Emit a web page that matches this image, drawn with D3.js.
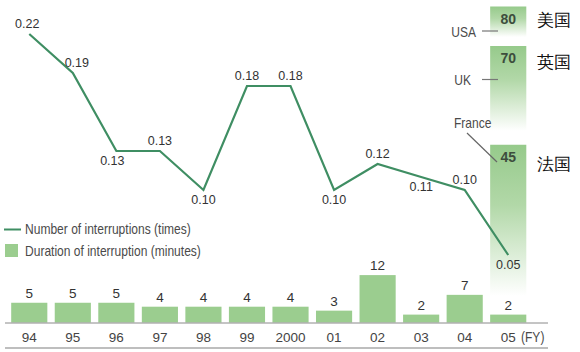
<!DOCTYPE html>
<html><head><meta charset="utf-8">
<script src="https://cdn.jsdelivr.net/npm/d3@7"></script>
<style>
html,body{margin:0;padding:0;background:#fff;}
svg{display:block;}
text{font-family:"Liberation Sans",Arial,sans-serif;}
</style></head>
<body>
<script>
const years = ["94","95","96","97","98","99","2000","01","02","03","04","05"];
const interruptions = [0.22,0.19,0.13,0.13,0.10,0.18,0.18,0.10,0.12,0.11,0.10,0.05];
const durations = [5,5,5,4,4,4,4,3,12,2,7,2];
const labelSide = ["above","above","below","above","below","above","above","below","above","below","above","below"];
const countries = ["USA","UK","France"];
const countriesCN = ["美国","英国","法国"];
const countryDurations = [80,70,45];
const legendLabels = ["Number of interruptions (times)","Duration of interruption (minutes)"];
const fyLabel = "(FY)";

const W = 580, H = 352;
const lineColor = "#3f8e63", barColor = "#9bcd8f", textColor = "#333";

const svg = d3.select("body").append("svg").attr("width", W).attr("height", H);
const defs = svg.append("defs");
const grad = defs.append("linearGradient").attr("id","fade").attr("x1",0).attr("y1",0).attr("x2",0).attr("y2",1);
grad.append("stop").attr("offset",0).attr("stop-color","#96ca8b");
grad.append("stop").attr("offset",0.4).attr("stop-color","#b2d8a8");
grad.append("stop").attr("offset",1).attr("stop-color","#ffffff");

// condensed text helper
function narrow(g, px, py, str, size, anchor){
  return g.append("text").attr("transform",`translate(${px},${py}) scale(0.86,1)`)
    .attr("font-size",size).attr("fill","#4a4a4a").attr("text-anchor",anchor||"start").text(str);
}

const x = d3.scaleBand().domain(years).range([7.5, 530]).paddingInner(0.17).paddingOuter(0.085);
const yLine = d3.scaleLinear().domain([0.10, 0.22]).range([190, 34]);
const yBar = d3.scaleLinear().domain([0, 80]).range([322.5, 6.5]);
const cx = d => x(d) + x.bandwidth()/2;

// Right comparison column (aligned with the last fiscal year)
const last = years[years.length-1];
const segBottom = [yBar(countryDurations[1]) - 9, yBar(countryDurations[2]) - 14, 296];
countries.forEach((c,i)=>{
  const top = yBar(countryDurations[i]);
  svg.append("rect").attr("x", x(last)).attr("y", top).attr("width", x.bandwidth())
    .attr("height", segBottom[i]-top).attr("fill","url(#fade)");
  svg.append("text").attr("x", cx(last)).attr("y", top+17)
    .attr("text-anchor","middle").attr("font-size",14).attr("font-weight","bold").attr("fill","#3d4d3d").text(countryDurations[i]);
  svg.append("text").attr("x", 537).attr("y", [top+19, top+22, top+25][i])
    .attr("font-family","'Noto Sans CJK SC',sans-serif").attr("font-size",17).attr("fill","#111").text(countriesCN[i]);
});
// English country labels with pointers
const gUSA = yBar(countryDurations[0]);
narrow(svg, 476, gUSA+30, countries[0], 14, "end");
svg.append("line").attr("x1",482).attr("x2",498).attr("y1",gUSA+24.5).attr("y2",gUSA+24.5).attr("stroke","#777").attr("stroke-width",1.2);
const gUK = yBar(countryDurations[1]);
narrow(svg, 471, gUK+39, countries[1], 14, "end");
svg.append("line").attr("x1",482).attr("x2",498).attr("y1",gUK+33.5).attr("y2",gUK+33.5).attr("stroke","#777").attr("stroke-width",1.2);
narrow(svg, 454, 128, countries[2], 14, "start");
svg.append("line").attr("x1",467).attr("y1",133).attr("x2",497).attr("y2",162).attr("stroke","#666").attr("stroke-width",1.2);

// Bars
svg.selectAll("rect.bar").data(durations).enter().append("rect").attr("class","bar")
  .attr("x",(d,i)=>x(years[i])).attr("width",x.bandwidth())
  .attr("y",d=>yBar(d)).attr("height",d=>yBar(0)-yBar(d)).attr("fill",barColor);
svg.selectAll("text.bl").data(durations).enter().append("text").attr("class","bl")
  .attr("x",(d,i)=>cx(years[i])).attr("y",d=>yBar(d)-5).attr("text-anchor","middle")
  .attr("font-size",13.5).attr("fill",textColor).text(d=>d);

// Axis lines
svg.append("line").attr("x1",5).attr("x2",548).attr("y1",323).attr("y2",323).attr("stroke","#8a8a8a").attr("stroke-width",1);
svg.append("line").attr("x1",5).attr("x2",548).attr("y1",348).attr("y2",348).attr("stroke","#a8a8a8").attr("stroke-width",1.5);
const axis = d3.axisBottom(x).tickSize(0).tickPadding(0);
const ga = svg.append("g").attr("transform","translate(0,332)").call(axis);
ga.select(".domain").remove();
ga.selectAll("text").attr("font-family","'Liberation Sans',Arial,sans-serif").attr("font-size",13.5).attr("fill","#444").attr("dy","0.75em");
narrow(svg, 521, 342, fyLabel, 14, "start");

// Line
const line = d3.line().x((d,i)=>cx(years[i])).y(d=>yLine(d));
svg.append("path").datum(interruptions).attr("d",line).attr("fill","none")
  .attr("stroke",lineColor).attr("stroke-width",2.2).attr("stroke-linejoin","miter");
const dxs = {0:-2,1:4,2:-4};
svg.selectAll("text.ll").data(interruptions).enter().append("text").attr("class","ll")
  .attr("x",(d,i)=>cx(years[i]) + (dxs[i]||0))
  .attr("y",(d,i)=>yLine(d) + (labelSide[i]==="above" ? -6.5 : 14))
  .attr("text-anchor","middle").attr("font-size",12.5).attr("fill",textColor)
  .text(d=>d3.format(".2f")(d));

// Legend
svg.append("line").attr("x1",4).attr("x2",21).attr("y1",229.5).attr("y2",229.5).attr("stroke",lineColor).attr("stroke-width",2);
narrow(svg, 25, 234, legendLabels[0], 14, "start");
svg.append("rect").attr("x",5).attr("y",244).attr("width",13).attr("height",13).attr("fill",barColor);
narrow(svg, 25, 256, legendLabels[1], 14, "start");
</script>
</body></html>
